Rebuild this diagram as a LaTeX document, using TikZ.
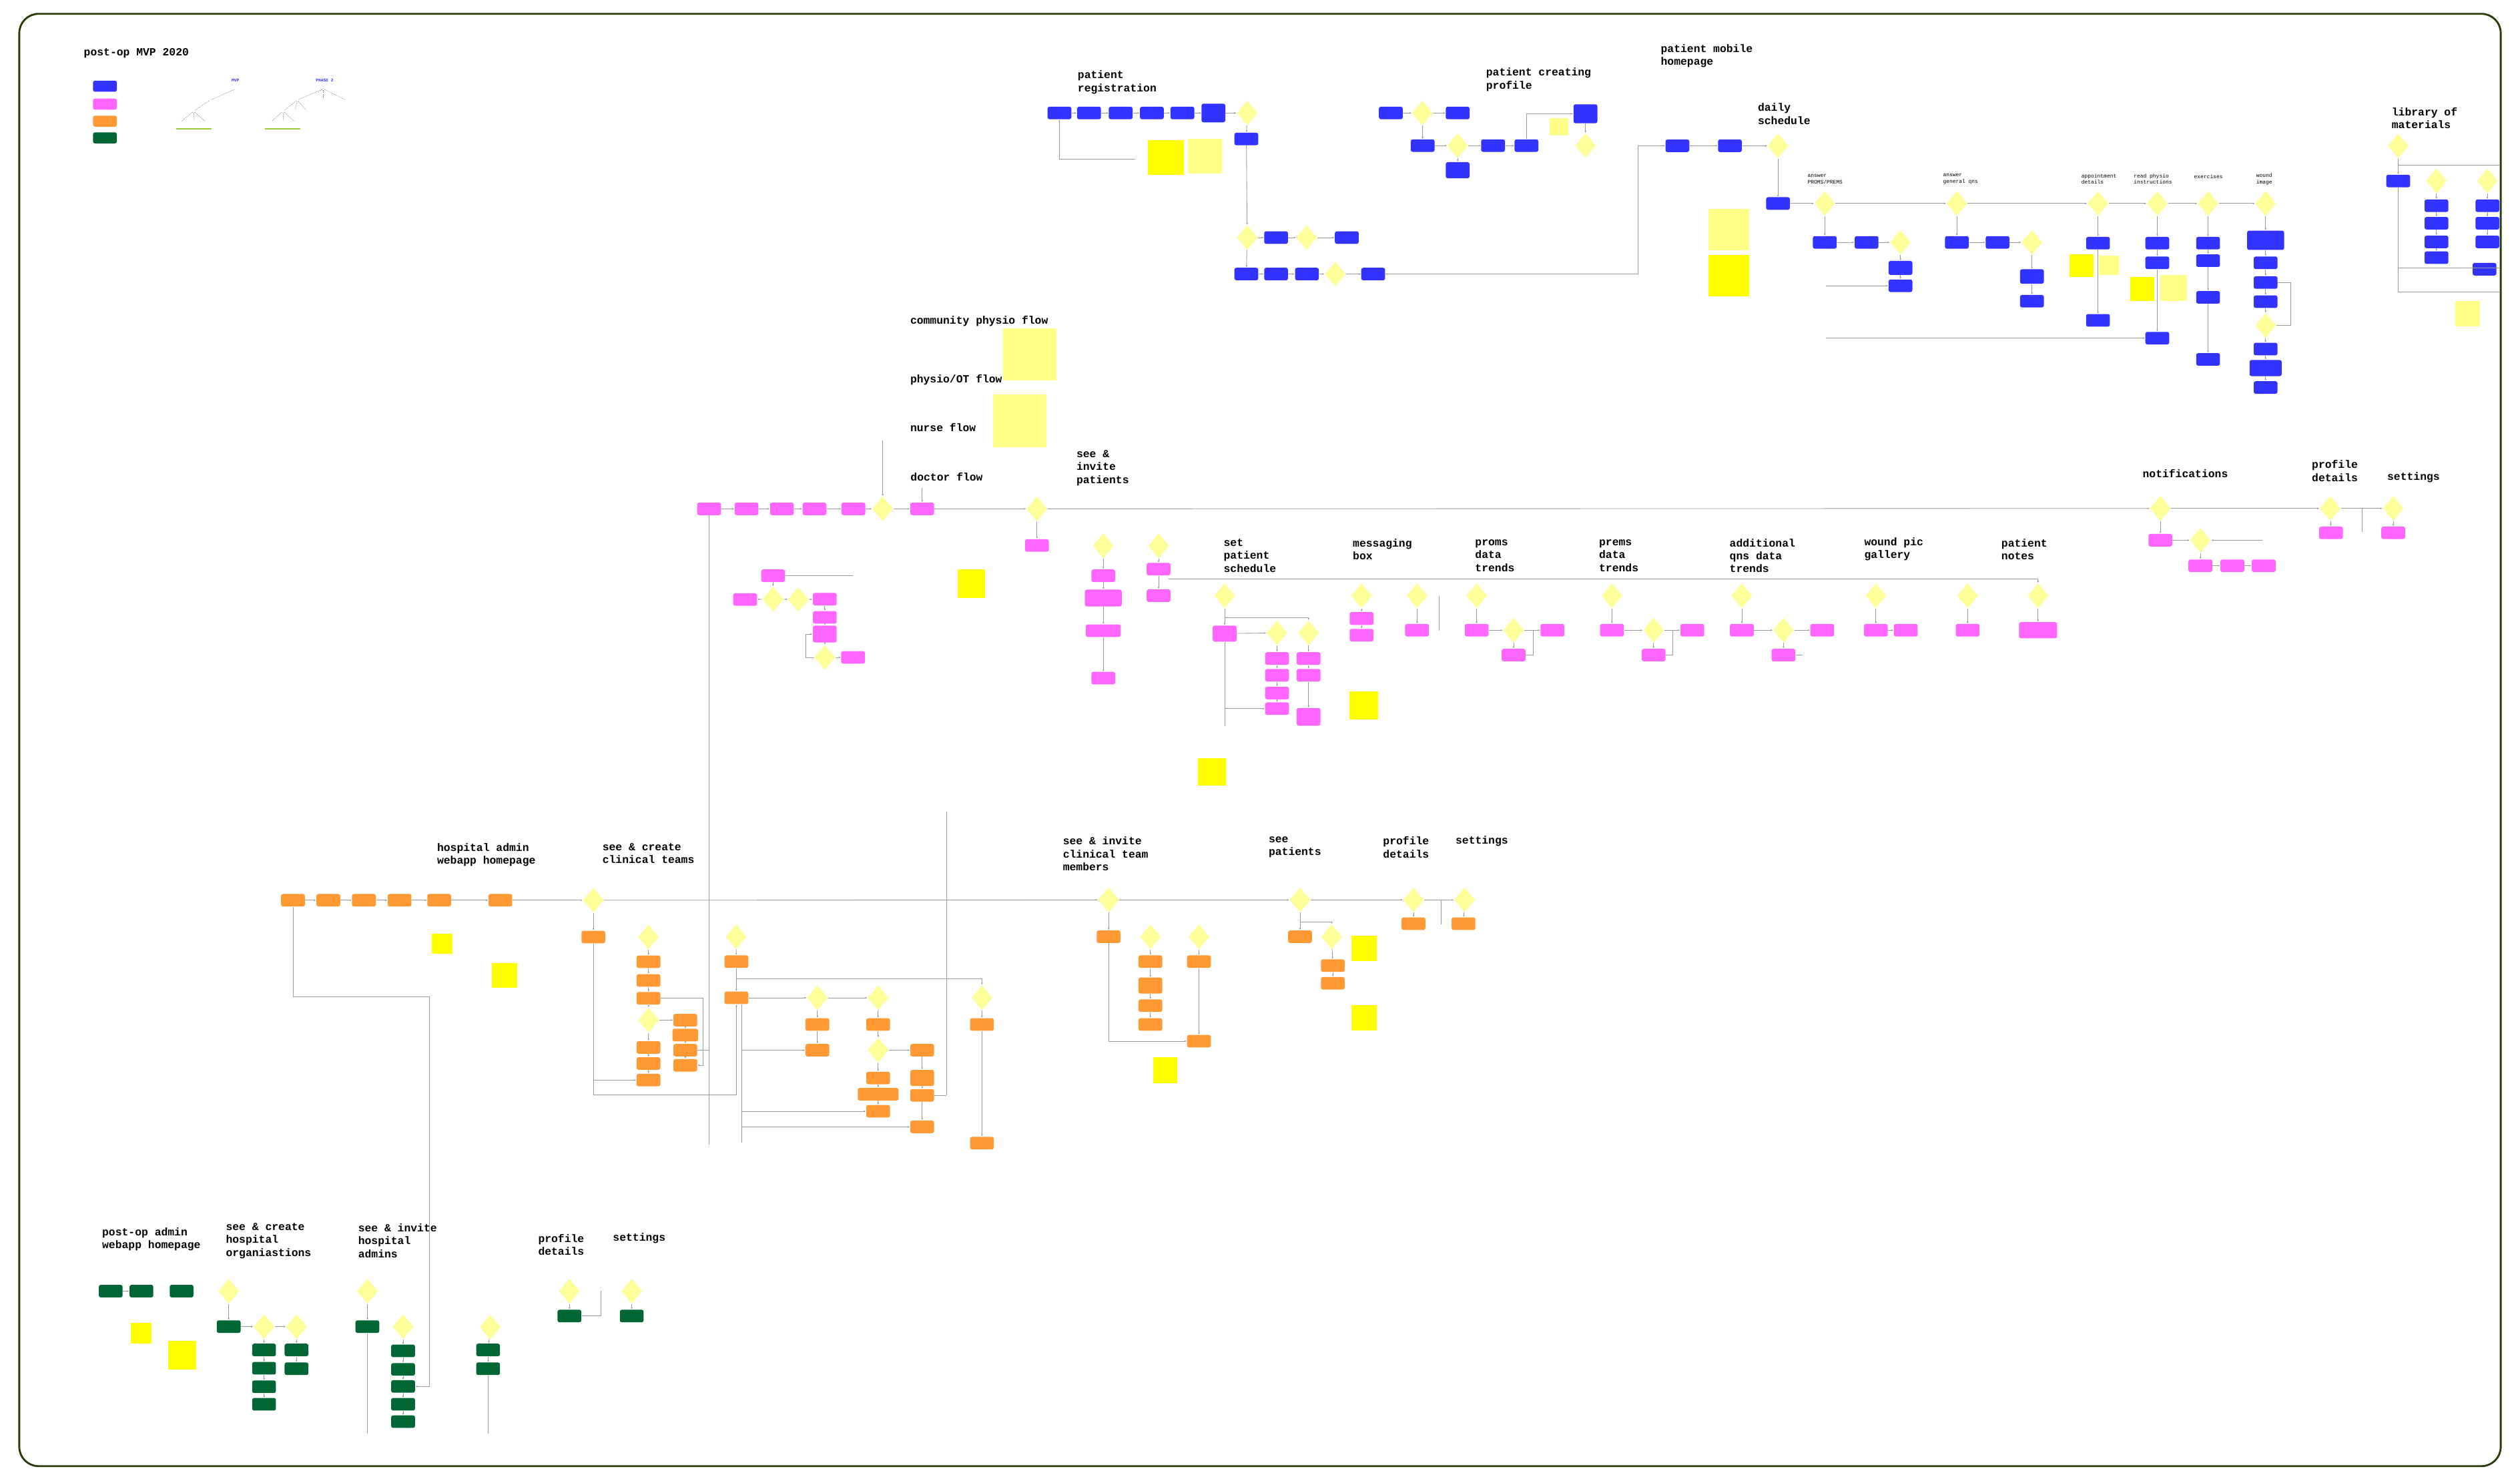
\documentclass[tikz,border=0pt]{standalone}
\usepackage{fontspec}
\newfontfamily\typefont{Liberation Mono}
\usetikzlibrary{arrows.meta,shapes.geometric}
\definecolor{poFrame}{HTML}{2C3D0C}
\definecolor{poBlue}{HTML}{3333FF}
\definecolor{poPink}{HTML}{FF66FF}
\definecolor{poOrange}{HTML}{FF9933}
\definecolor{poGreen}{HTML}{006633}
\definecolor{poLemon}{HTML}{FFFF99}
\definecolor{poSun}{HTML}{FFFF00}
\definecolor{poPale}{HTML}{FFFF88}
\definecolor{poWire}{HTML}{9A9A9A}
\definecolor{poLeaf}{HTML}{99CC33}
\tikzset{
  card/.style={rectangle, rounded corners=1.2pt, minimum width=14.8pt, minimum height=7.8pt, inner sep=0pt},
  patient/.style={card, fill=poBlue},
  clinician/.style={card, fill=poPink},
  hospital/.style={card, fill=poOrange},
  admin/.style={card, fill=poGreen},
  choice/.style={diamond, fill=poLemon, minimum width=13pt, minimum height=15.5pt, inner sep=0pt},
  sticky/.style={rectangle, fill=poSun, inner sep=0pt},
  pale/.style={rectangle, fill=poPale, inner sep=0pt},
  heading/.style={font=\typefont\bfseries\fontsize{6.8}{8}\selectfont, align=left, anchor=west, inner sep=0pt},
  caption/.style={font=\typefont\fontsize{3.3}{4}\selectfont, align=left, anchor=west, inner sep=0pt},
  treelabel/.style={font=\typefont\bfseries\fontsize{2.6}{3}\selectfont, text=poBlue, inner sep=0pt},
  twig/.style={draw=black!55, line width=0.2pt, dash pattern=on 0.6pt off 0.5pt, shorten <=0.8pt, shorten >=0.8pt},
  arrow/.style={-{Latex[length=1.3pt,width=1.1pt]}, draw=poWire, line width=0.35pt},
  wire/.style={draw=poWire, line width=0.35pt}
}
\begin{document}
\begin{tikzpicture}[x=1pt, y=-1pt]
  \useasboundingbox (0,0) rectangle (1568,920);
  \draw[poFrame, line width=1.2pt, rounded corners=12pt] (12,8.6) rectangle (1556,912.2);

  \node[heading] (mvpTitle) at (52,33) {post-op MVP 2020};
  \node[heading] (registrationTitle) at (670.4,51.2) {patient\\registration};
  \node[heading] (createProfileTitle) at (924.5,49.5) {patient creating\\profile};
  \node[heading] (mobileTitle) at (1033.2,34.7) {patient mobile\\homepage};
  \node[heading] (dailyTitle) at (1093.6,70.9) {daily\\schedule};
  \node[heading] (libraryTitle) at (1488,73.4) {library of\\materials};
  \node[heading] (communityTitle) at (566.2,200) {community physio flow};
  \node[heading] (physioTitle) at (566.2,236.4) {physio/OT flow};
  \node[heading] (nurseTitle) at (566.2,265.8) {nurse flow};
  \node[heading] (doctorTitle) at (566.4,296.8) {doctor flow};
  \node[heading] (invitePatientsTitle) at (669.6,291.1) {see \&\\invite\\patients};
  \node[heading] (notificationsTitle) at (1333,294.6) {notifications};
  \node[heading] (profileTopTitle) at (1438.3,293) {profile\\details};
  \node[heading] (settingsTopTitle) at (1485.2,296.9) {settings};
  \node[heading] (scheduleTitle) at (761.2,345.7) {set\\patient\\schedule};
  \node[heading] (messagingTitle) at (841.6,341.7) {messaging\\box};
  \node[heading] (promsTitle) at (917.7,345.7) {proms\\data\\trends};
  \node[heading] (premsTitle) at (994.8,345.7) {prems\\data\\trends};
  \node[heading] (additionalTitle) at (1076,345.7) {additional\\qns data\\trends};
  \node[heading] (woundTitle) at (1159.8,341.7) {wound pic\\gallery};
  \node[heading] (notesTitle) at (1245.1,341.7) {patient\\notes};
  \node[heading] (hospitalTitle) at (271.8,531.8) {hospital admin\\webapp homepage};
  \node[heading] (teamsTitle) at (374.7,530.9) {see \& create\\clinical teams};
  \node[heading] (membersTitle) at (661.2,531.2) {see \& invite\\clinical team\\members};
  \node[heading] (seePatientsTitle) at (789.2,527.2) {see\\patients};
  \node[heading] (profileMidTitle) at (860.4,527.2) {profile\\details};
  \node[heading] (settingsMidTitle) at (905.5,523.3) {settings};
  \node[heading] (adminTitle) at (63.4,770.9) {post-op admin\\webapp homepage};
  \node[heading] (orgTitle) at (140.4,772) {see \& create\\hospital\\organiastions};
  \node[heading] (hospAdminsTitle) at (222.7,772) {see \& invite\\hospital\\admins};
  \node[heading] (profileLowTitle) at (334.7,774.5) {profile\\details};
  \node[heading] (settingsLowTitle) at (381.2,770.6) {settings};

  \node[patient, minimum height=6.9pt] (keyPatient) at (65.3,53.6) {};
  \node[clinician, minimum height=6.9pt] (keyClinician) at (65.3,64.8) {};
  \node[hospital, minimum height=6.9pt] (keyHospital) at (65.3,75.4) {};
  \node[admin, minimum height=6.9pt] (keyAdmin) at (65.3,85.8) {};

  \node[treelabel] (mvpLabel) at (146.5,50.2) {MVP};
  \node[treelabel] (phaseLabel) at (202,50.2) {PHASE 2};
  \coordinate (mvpRoot) at (146.5,55.4);
  \coordinate (mvpSet) at (130.7,62.3);
  \coordinate (mvpClin) at (120.5,69.2);
  \coordinate (mvpLeafA) at (112.2,76.1);
  \coordinate (mvpLeafB) at (120.9,76.1);
  \coordinate (mvpLeafC) at (128.3,76.1);
  \coordinate (phaseRoot) at (201.2,55.4);
  \coordinate (phaseSetA) at (185,62.3);
  \coordinate (phaseSetB) at (201.2,62.3);
  \coordinate (phaseSetC) at (215.4,62.3);
  \coordinate (phaseClinA) at (176.1,69.2);
  \coordinate (phaseClinB) at (183.5,69.2);
  \coordinate (phaseClinC) at (191,69.2);
  \coordinate (phaseLeafA) at (168.3,76.1);
  \coordinate (phaseLeafB) at (176.5,76.1);
  \coordinate (phaseLeafC) at (183.9,76.1);
  \draw[twig] (mvpRoot) -- (mvpSet);
  \draw[twig] (mvpSet) -- (mvpClin);
  \draw[twig] (mvpClin) -- (mvpLeafA);
  \draw[twig] (mvpClin) -- (mvpLeafB);
  \draw[twig] (mvpClin) -- (mvpLeafC);
  \draw[twig] (phaseRoot) -- (phaseSetA);
  \draw[twig] (phaseRoot) -- (phaseSetB);
  \draw[twig] (phaseRoot) -- (phaseSetC);
  \draw[twig] (phaseSetA) -- (phaseClinA);
  \draw[twig] (phaseSetA) -- (phaseClinB);
  \draw[twig] (phaseSetA) -- (phaseClinC);
  \draw[twig] (phaseClinA) -- (phaseLeafA);
  \draw[twig] (phaseClinA) -- (phaseLeafB);
  \draw[twig] (phaseClinA) -- (phaseLeafC);
  \draw[poLeaf, line width=0.8pt] (109.8,80.3) -- (131.6,80.3);
  \draw[poLeaf, line width=0.8pt] (165,80.3) -- (186.9,80.3);

  % patient app
  \node[patient] (regA) at (659.2,70.3) {};
  \node[patient] (regB) at (677.6,70.3) {};
  \node[patient] (regC) at (697.3,70.3) {};
  \node[patient] (regD) at (716.7,70.3) {};
  \node[patient] (regE) at (735.7,70.3) {};
  \node[patient, minimum height=11.6pt] (regF) at (755,70.3) {};
  \node[choice] (regCheck) at (776,70.3) {};
  \node[patient] (regBelow) at (775.5,86.5) {};
  \node[choice] (regVerify) at (776,147.8) {};
  \node[patient] (regG) at (794,147.8) {};
  \node[choice] (regCode) at (813,147.8) {};
  \node[patient] (regH) at (838,147.8) {};
  \node[patient] (regI) at (775.5,170.5) {};
  \node[patient] (regJ) at (794,170.5) {};
  \node[patient] (regK) at (813.2,170.5) {};
  \node[choice] (regDone) at (830.8,170.5) {};
  \node[patient] (regL) at (854.4,170.5) {};
  \node[sticky, minimum width=22.1pt, minimum height=21.8pt] (regSun) at (725.4,98.1) {};
  \node[pale, minimum width=21.3pt, minimum height=21.5pt] (regPale) at (749.7,97.3) {};
  \coordinate (regLoop) at (706.2,99);

  \node[patient] (profA) at (865.4,70.3) {};
  \node[choice] (profAsk) at (885,70.3) {};
  \node[patient] (profB) at (907,70.3) {};
  \node[patient] (profC) at (885.2,90.6) {};
  \node[choice] (profPick) at (907,90.6) {};
  \node[patient] (profD) at (929,90.6) {};
  \node[patient] (profE) at (949.8,90.6) {};
  \node[patient, minimum height=10pt] (profF) at (907,105.9) {};
  \node[patient, minimum height=11.8pt] (profG) at (986.5,70.8) {};
  \node[choice] (profDone) at (986.5,90.6) {};
  \node[pale, minimum width=11.4pt, minimum height=11.1pt] (profPale) at (970.1,78.9) {};

  \node[patient] (mobA) at (1043.7,90.7) {};
  \node[patient] (mobB) at (1076.4,90.7) {};
  \node[choice] (dayAsk) at (1106.3,90.8) {};
  \node[patient] (dayHub) at (1106.3,126.6) {};
  \coordinate (mobJoin) at (1019,170.5);
  \node[pale, minimum width=25.4pt, minimum height=25.6pt] (dayPale) at (1075.7,142.8) {};
  \node[sticky, minimum width=25.4pt, minimum height=25.5pt] (daySun) at (1075.7,171.5) {};

  \node[caption] (promsCap) at (1124.5,111.4) {answer\\PROMS/PREMS};
  \node[caption] (generalCap) at (1208.8,111.4) {answer\\general qns};
  \node[caption] (apptCap) at (1294.9,111.4) {appointment\\details};
  \node[caption] (physioCap) at (1327.5,111.4) {read physio\\instructions};
  \node[caption] (exerciseCap) at (1365,110) {exercises};
  \node[caption] (woundCap) at (1403.7,111.4) {wound\\image};

  \node[choice] (dsProms) at (1135.4,126.6) {};
  \node[choice] (dsGeneral) at (1217.6,126.6) {};
  \node[choice] (dsAppt) at (1305.4,126.6) {};
  \node[choice] (dsPhysio) at (1342.3,126.6) {};
  \node[choice] (dsExercise) at (1373.9,126.6) {};
  \node[choice] (dsWound) at (1409.7,126.6) {};

  \node[patient] (promsA) at (1135.4,150.8) {};
  \node[patient] (promsB) at (1161.4,150.8) {};
  \node[choice] (promsAsk) at (1182.5,150.8) {};
  \node[patient, minimum height=8.7pt] (promsC) at (1182.5,166.7) {};
  \node[patient] (promsD) at (1182.5,177.8) {};
  \coordinate (promsTail) at (1136,177.8);
  \node[patient] (genA) at (1217.6,150.8) {};
  \node[patient] (genB) at (1242.9,150.8) {};
  \node[choice] (genAsk) at (1264.3,150.8) {};
  \node[patient, minimum height=9pt] (genC) at (1264.3,172) {};
  \node[patient] (genD) at (1264.3,187.4) {};
  \node[patient] (apptA) at (1305.4,151.3) {};
  \node[patient] (apptB) at (1305.4,199.3) {};
  \node[sticky, minimum width=14.8pt, minimum height=14.3pt] (apptSun) at (1295.2,165.2) {};
  \node[pale, minimum width=12.4pt, minimum height=12pt] (apptPale) at (1312.2,165) {};
  \node[patient] (physA) at (1342.3,151.3) {};
  \node[patient] (physB) at (1342.3,163.5) {};
  \node[patient] (physC) at (1342.3,210.4) {};
  \coordinate (physTail) at (1136,210.4);
  \node[sticky, minimum width=14.7pt, minimum height=15.1pt] (physSun) at (1333,179.9) {};
  \node[pale, minimum width=16.5pt, minimum height=16.4pt] (physPale) at (1352.5,179.2) {};
  \node[patient] (exA) at (1373.9,151.3) {};
  \node[patient] (exB) at (1373.9,162.2) {};
  \node[patient] (exC) at (1373.9,185) {};
  \node[patient] (exD) at (1373.9,223.6) {};
  \node[patient, minimum width=23pt, minimum height=12pt] (woA) at (1409.7,149.5) {};
  \node[patient] (woB) at (1409.7,163.5) {};
  \node[patient] (woC) at (1409.7,175.8) {};
  \node[patient] (woD) at (1409.7,187.7) {};
  \node[choice] (woAsk) at (1409.7,202.5) {};
  \node[patient] (woE) at (1409.7,217.2) {};
  \node[patient, minimum width=20pt, minimum height=10pt] (woF) at (1409.7,229) {};
  \node[patient] (woG) at (1409.7,241.1) {};

  \node[choice] (libAsk) at (1492.2,90.8) {};
  \node[patient] (libA) at (1492.2,112.6) {};
  \node[choice] (libAskB) at (1516,112.6) {};
  \node[choice] (libAskC) at (1547.7,112.6) {};
  \node[patient] (libB1) at (1516,128) {};
  \node[patient] (libB2) at (1516,138.9) {};
  \node[patient] (libB3) at (1516,150.5) {};
  \node[patient] (libB4) at (1516,160.3) {};
  \node[patient] (libC1) at (1547.7,128) {};
  \node[patient] (libC2) at (1547.7,138.9) {};
  \node[patient] (libC3) at (1547.7,150.5) {};
  \node[patient] (libC4) at (1545.9,167.5) {};
  \node[pale, minimum width=15.3pt, minimum height=15.6pt] (libPale) at (1535.4,195.2) {};
  \coordinate (libFoot) at (1492.2,181.8);
  \coordinate (libSplit) at (1492.2,102.6);
  \coordinate (libEdge) at (1555,102.6);
  \coordinate (libMidL) at (1492.2,166.7);
  \coordinate (libMidR) at (1555,166.7);
  \coordinate (libLowR) at (1555,181.8);

  % clinician webapp
  \node[pale, minimum width=33pt, minimum height=32.5pt] (communityPale) at (640.8,220.5) {};
  \node[pale, minimum width=33.1pt, minimum height=32.7pt] (physioPale) at (634.6,261.7) {};

  \node[clinician] (docA) at (441.2,316.6) {};
  \node[clinician] (docB) at (464.5,316.6) {};
  \node[clinician] (docC) at (486.5,316.6) {};
  \node[clinician] (docD) at (506.8,316.6) {};
  \node[clinician] (docE) at (531,316.6) {};
  \node[choice] (docAsk) at (549.2,316.6) {};
  \node[clinician] (docF) at (573.8,316.6) {};
  \coordinate (flowTop) at (549.2,274);
  \coordinate (docFoot) at (441.2,712);
  \node[clinician] (docG) at (481,358.2) {};
  \coordinate (docSpur) at (530.8,358.2);
  \node[choice] (docAskB) at (481,372.8) {};
  \node[clinician] (docH) at (463.6,373) {};
  \node[choice] (docAskC) at (496.7,373) {};
  \node[clinician] (docI) at (513.2,372.8) {};
  \node[clinician] (docJ) at (513.2,384.1) {};
  \node[clinician, minimum height=10.5pt] (docK) at (513.2,394.5) {};
  \node[choice] (docAskD) at (513.2,409) {};
  \node[clinician] (docL) at (530.8,409) {};
  \node[sticky, minimum width=17.2pt, minimum height=17.6pt] (docSun) at (604.4,363.2) {};

  \node[choice] (invAsk) at (645.2,316.6) {};
  \node[clinician] (invA) at (645.2,339.4) {};
  \node[choice] (invAskB) at (686.5,339.6) {};
  \node[choice] (invAskC) at (720.9,339.6) {};
  \node[clinician] (invB) at (686.5,358.2) {};
  \node[clinician, minimum width=22.9pt, minimum height=10.5pt] (invC) at (686.5,372.1) {};
  \node[clinician, minimum width=21.6pt] (invD) at (686.5,392.4) {};
  \node[clinician] (invE) at (686.5,421.9) {};
  \node[clinician] (invF) at (720.9,354.1) {};
  \node[clinician] (invG) at (720.9,370.6) {};
  \coordinate (trendStart) at (727,360.2);

  \node[choice] (notifAsk) at (1344.2,316.3) {};
  \node[clinician] (notifA) at (1344.2,336.1) {};
  \node[choice] (notifAskB) at (1369.1,336.1) {};
  \node[clinician] (notifB) at (1369.1,352) {};
  \node[clinician] (notifC) at (1389,352) {};
  \node[clinician] (notifD) at (1408.5,352) {};
  \coordinate (notifSpur) at (1407.6,336.1);
  \node[choice] (profAskTop) at (1449.9,316.3) {};
  \node[clinician] (profTopA) at (1450.4,331.5) {};
  \node[choice] (setAskTop) at (1489.1,316.3) {};
  \node[clinician] (setTopA) at (1489.1,331.5) {};
  \coordinate (profRail) at (1469.8,316.3);
  \coordinate (profRailFoot) at (1469.8,330.9);

  \node[choice] (schedAsk) at (762,370.7) {};
  \node[clinician, minimum height=10pt] (schedA) at (762,394.2) {};
  \node[choice] (schedAskB) at (794.6,393.8) {};
  \node[choice] (schedAskC) at (814.2,393.8) {};
  \node[clinician] (schedB1) at (794.6,409.7) {};
  \node[clinician] (schedB2) at (794.6,420.1) {};
  \node[clinician] (schedB3) at (794.6,431.2) {};
  \node[clinician] (schedB4) at (794.6,440.9) {};
  \node[clinician] (schedC1) at (814.2,409.7) {};
  \node[clinician] (schedC2) at (814.2,420.1) {};
  \node[clinician, minimum height=11pt] (schedC3) at (814.2,446) {};
  \coordinate (schedFork) at (762,384.1);
  \coordinate (schedFoot) at (762,452);
  \coordinate (schedTap) at (762,440.9);
  \node[sticky, minimum width=17.8pt, minimum height=17.2pt] (schedSun) at (754.1,480.3) {};

  \node[choice] (msgAsk) at (847.2,370.7) {};
  \node[clinician, minimum height=8pt] (msgA) at (847.2,384.8) {};
  \node[clinician] (msgB) at (847.2,395.2) {};
  \node[choice] (msgAskB) at (881.7,370.7) {};
  \node[clinician] (msgC) at (881.7,392.1) {};
  \coordinate (msgRailTop) at (895.4,371);
  \coordinate (msgRailFoot) at (895.4,392.4);
  \node[sticky, minimum width=17.8pt, minimum height=17.3pt] (msgSun) at (848.7,438.9) {};

  \node[choice] (promTAsk) at (918.8,370.7) {};
  \node[clinician] (promTA) at (918.8,392.1) {};
  \node[choice] (promTAskB) at (941.8,392.1) {};
  \node[clinician] (promTB) at (965.9,392.1) {};
  \node[clinician] (promTC) at (941.8,407.6) {};
  \node[choice] (premAsk) at (1003,370.7) {};
  \node[clinician] (premA) at (1003,392.1) {};
  \node[choice] (premAskB) at (1028.9,392.1) {};
  \node[clinician] (premB) at (1053,392.1) {};
  \node[clinician] (premC) at (1028.9,407.6) {};
  \node[choice] (addAsk) at (1083.8,370.7) {};
  \node[clinician] (addA) at (1083.8,392.1) {};
  \node[choice] (addAskB) at (1109.7,392.1) {};
  \node[clinician] (addB) at (1133.8,392.1) {};
  \node[clinician] (addC) at (1109.7,407.6) {};
  \node[choice] (picAsk) at (1167.2,370.7) {};
  \node[clinician] (picA) at (1167.2,392.1) {};
  \node[clinician] (picB) at (1185.8,392.1) {};
  \node[choice] (noteAsk) at (1224.3,370.7) {};
  \node[clinician] (noteA) at (1224.3,392.1) {};
  \node[choice] (farAsk) at (1268.1,370.7) {};
  \node[clinician, minimum width=23.7pt, minimum height=10pt] (farA) at (1268.1,392.1) {};

  % hospital admin webapp
  \node[hospital] (hosA) at (182.3,560.1) {};
  \node[hospital] (hosB) at (204.3,560.1) {};
  \node[hospital] (hosC) at (226.4,560.1) {};
  \node[hospital] (hosD) at (248.6,560.1) {};
  \node[hospital] (hosE) at (273.3,560.1) {};
  \node[hospital] (hosF) at (311.3,560.1) {};
  \node[choice] (teamAsk) at (369.2,560.1) {};
  \node[sticky, minimum width=12.9pt, minimum height=12.7pt] (hosSunA) at (275.2,587.1) {};
  \node[sticky, minimum width=15.6pt, minimum height=15.6pt] (hosSunB) at (313.9,606.8) {};
  \coordinate (hosRailTop) at (267,620.1);
  \coordinate (hosRailLow) at (267,862.6);

  \node[hospital] (teamsA) at (369.2,583) {};
  \node[choice] (teamAskB) at (403.5,583) {};
  \node[hospital] (teamB) at (403.5,598.4) {};
  \node[hospital] (teamC) at (403.5,610) {};
  \node[hospital] (teamD) at (403.5,621.1) {};
  \node[choice] (teamAskC) at (403.5,634.7) {};
  \node[hospital] (teamE) at (426.4,634.7) {};
  \node[hospital, minimum width=16pt] (teamF) at (426.4,644) {};
  \node[hospital] (teamJ) at (426.4,653.4) {};
  \node[hospital] (teamK) at (426.4,662.8) {};
  \node[hospital] (teamG) at (403.5,651.7) {};
  \node[hospital] (teamH) at (403.5,661.7) {};
  \node[hospital] (teamI) at (403.5,672) {};
  \coordinate (teamBend) at (437.4,621.1);
  \coordinate (teamTapJ) at (441.2,653.4);
  \coordinate (teamLoop) at (369.2,681);
  \coordinate (teamTapI) at (369.2,672);

  \node[choice] (clinAsk) at (458,582.8) {};
  \node[hospital] (clinA) at (458.2,598.3) {};
  \node[hospital] (clinB) at (458.2,620.8) {};
  \coordinate (clinFork) at (458.2,609);
  \coordinate (subRailTop) at (461.6,625);
  \coordinate (subRailFoot) at (461.6,711);
  \coordinate (subTapD) at (461.6,653.4);
  \coordinate (subTapJ) at (461.6,691.4);
  \coordinate (subTapK) at (461.6,701.1);
  \node[choice] (subAskA) at (508.6,620.8) {};
  \node[choice] (subAskB) at (546.4,620.8) {};
  \node[choice] (subAskC) at (611,620.8) {};
  \node[hospital] (subA) at (508.6,637.4) {};
  \node[hospital] (subB) at (546.4,637.4) {};
  \node[hospital] (subC) at (611,637.4) {};
  \node[hospital] (subD) at (508.6,653.4) {};
  \node[choice] (subAskD) at (546.4,653.4) {};
  \node[hospital] (subE) at (573.8,653.4) {};
  \node[hospital] (subF) at (546.4,670.7) {};
  \node[hospital, minimum height=10pt] (subG) at (573.8,670.7) {};
  \node[hospital, minimum width=25.4pt] (subH) at (546.4,680.8) {};
  \node[hospital] (subI) at (573.8,681.5) {};
  \node[hospital] (subJ) at (546.4,691.4) {};
  \node[hospital] (subK) at (573.8,701.1) {};
  \node[hospital] (subL) at (611,711.2) {};
  \coordinate (subSpur) at (589,681.5);
  \coordinate (midRailTop) at (589,505);
  \coordinate (midRailFoot) at (589,681.5);

  \node[choice] (memberAsk) at (689.8,559.9) {};
  \node[hospital] (memberA) at (689.8,582.8) {};
  \node[choice] (memberAskB) at (715.8,582.8) {};
  \node[choice] (memberAskC) at (746,582.8) {};
  \node[hospital] (memberB) at (715.8,598.3) {};
  \node[hospital] (memberC) at (746,598.3) {};
  \node[hospital, minimum height=10pt] (memberD) at (715.8,613.2) {};
  \node[hospital] (memberE) at (715.8,625.7) {};
  \node[hospital] (memberF) at (715.8,637.4) {};
  \node[hospital] (memberG) at (746,647.8) {};
  \node[sticky, minimum width=15.3pt, minimum height=16pt] (memberSun) at (725,665.8) {};

  \node[choice] (patAsk) at (808.9,559.9) {};
  \node[hospital] (patA) at (808.9,582.8) {};
  \node[choice] (patAskB) at (828.6,582.8) {};
  \node[hospital] (patB) at (829.3,600.8) {};
  \node[hospital] (patC) at (829.3,611.8) {};
  \coordinate (patFork) at (808.9,573.8);
  \node[sticky, minimum width=15.9pt, minimum height=16pt] (patSunA) at (848.7,590) {};
  \node[sticky, minimum width=15.9pt, minimum height=15.8pt] (patSunB) at (848.7,633.3) {};
  \node[choice] (hprofAsk) at (879.5,559.9) {};
  \node[hospital] (hprofA) at (879.5,574.7) {};
  \node[choice] (hsetAsk) at (911.3,559.9) {};
  \node[hospital] (hsetA) at (910.6,574.7) {};
  \coordinate (hprofRail) at (896.9,559.9);
  \coordinate (hprofRailFoot) at (896.9,575.2);

  % post-op admin webapp
  \node[admin] (adA) at (68.9,803.3) {};
  \node[admin] (adB) at (88,803.3) {};
  \node[admin] (adC) at (113,803.3) {};
  \node[sticky, minimum width=12.9pt, minimum height=13.2pt] (adSunA) at (88,829.5) {};
  \node[sticky, minimum width=17.4pt, minimum height=17.6pt] (adSunB) at (113.4,843.2) {};
  \node[choice] (orgAsk) at (142.3,803.3) {};
  \node[admin] (orgA) at (142.3,825.4) {};
  \node[choice] (orgAskB) at (164.3,825.4) {};
  \node[choice] (orgAskC) at (184.5,825.4) {};
  \node[admin] (orgB1) at (164.3,839.9) {};
  \node[admin] (orgB2) at (164.3,851.3) {};
  \node[admin] (orgB3) at (164.3,862.8) {};
  \node[admin] (orgB4) at (164.3,873.7) {};
  \node[admin] (orgC1) at (184.5,839.9) {};
  \node[admin] (orgC2) at (184.5,851.6) {};
  \node[choice] (invAdAsk) at (228.6,803.3) {};
  \node[admin] (admA) at (228.6,825.4) {};
  \coordinate (admFoot) at (228.6,892);
  \node[choice] (admAskB) at (250.8,825.4) {};
  \node[admin] (admB1) at (250.8,840.5) {};
  \node[admin] (admB2) at (250.8,852) {};
  \node[admin] (admB3) at (250.8,862.6) {};
  \node[admin] (admB4) at (250.8,873.7) {};
  \node[admin] (admB5) at (250.8,884.5) {};
  \node[choice] (admAskC) at (305,825.7) {};
  \node[admin] (admC) at (303.7,839.9) {};
  \node[admin] (admD) at (303.7,851.6) {};
  \coordinate (admCFoot) at (303.7,892);
  \node[choice] (aprofAsk) at (354.3,803.3) {};
  \node[admin] (aprofA) at (354.3,818.8) {};
  \coordinate (aprofRail) at (374,803.3);
  \node[choice] (asetAsk) at (393.1,803.3) {};
  \node[admin] (asetA) at (393.1,818.8) {};

  \draw[arrow] (regA) -- (regB);
  \draw[arrow] (regB) -- (regC);
  \draw[arrow] (regC) -- (regD);
  \draw[arrow] (regD) -- (regE);
  \draw[arrow] (regE) -- (regF);
  \draw[arrow] (regF) -- (regCheck);
  \draw[arrow] (regCheck) -- (regBelow);
  \draw[arrow] (regBelow) -- (regVerify);
  \draw[arrow] (regVerify) -- (regG);
  \draw[arrow] (regG) -- (regCode);
  \draw[arrow] (regCode) -- (regH);
  \draw[arrow] (regVerify) -- (regI);
  \draw[arrow] (regI) -- (regJ);
  \draw[arrow] (regJ) -- (regK);
  \draw[arrow] (regK) -- (regDone);
  \draw[arrow] (regDone) -- (regL);
  \draw[arrow] (regLoop) -| (regA);
  \draw[arrow] (regL) -- (mobJoin) |- (mobA);
  \draw[arrow] (profA) -- (profAsk);
  \draw[arrow] (profAsk) -- (profB);
  \draw[arrow] (profAsk) -- (profC);
  \draw[arrow] (profC) -- (profPick);
  \draw[arrow] (profPick) -- (profD);
  \draw[arrow] (profD) -- (profE);
  \draw[arrow] (profPick) -- (profF);
  \draw[arrow] (profE) |- (profG);
  \draw[arrow] (profG) -- (profDone);
  \draw[arrow] (mobA) -- (mobB);
  \draw[arrow] (mobB) -- (dayAsk);
  \draw[arrow] (dayAsk) -- (dayHub);
  \draw[arrow] (dayHub) -- (dsProms);
  \draw[arrow] (dsProms) -- (dsGeneral);
  \draw[arrow] (dsGeneral) -- (dsAppt);
  \draw[arrow] (dsAppt) -- (dsPhysio);
  \draw[arrow] (dsPhysio) -- (dsExercise);
  \draw[arrow] (dsExercise) -- (dsWound);
  \draw[arrow] (dsProms) -- (promsA);
  \draw[arrow] (promsA) -- (promsB);
  \draw[arrow] (promsB) -- (promsAsk);
  \draw[arrow] (promsAsk) -- (promsC);
  \draw[arrow] (promsC) -- (promsD);
  \draw[arrow] (promsTail) -- (promsD);
  \draw[arrow] (dsGeneral) -- (genA);
  \draw[arrow] (genA) -- (genB);
  \draw[arrow] (genB) -- (genAsk);
  \draw[arrow] (genAsk) -- (genC);
  \draw[arrow] (genC) -- (genD);
  \draw[arrow] (dsAppt) -- (apptA);
  \draw[arrow] (apptA) -- (apptB);
  \draw[arrow] (dsPhysio) -- (physA);
  \draw[arrow] (physA) -- (physB);
  \draw[arrow] (physB) -- (physC);
  \draw[arrow] (physTail) -- (physC);
  \draw[arrow] (dsExercise) -- (exA);
  \draw[arrow] (exA) -- (exB);
  \draw[arrow] (exB) -- (exC);
  \draw[arrow] (exC) -- (exD);
  \draw[arrow] (dsWound) -- (woA);
  \draw[arrow] (woA) -- (woB);
  \draw[arrow] (woB) -- (woC);
  \draw[arrow] (woC) -- (woD);
  \draw[arrow] (woD) -- (woAsk);
  \draw[arrow] (woAsk) -- (woE);
  \draw[arrow] (woE) -- (woF);
  \draw[arrow] (woF) -- (woG);
  \draw[wire] (woC.east) -- ++(8,0) |- (woAsk.east);
  \draw[arrow] (libAsk) -- (libA);
  \draw[wire] (libA) -- (libFoot);
  \draw[wire] (libSplit) -- (libEdge);
  \draw[wire] (libMidL) -- (libMidR);
  \draw[wire] (libFoot) -- (libLowR);
  \draw[arrow] (libAskB) -- (libB1);
  \draw[arrow] (libB1) -- (libB2);
  \draw[arrow] (libB2) -- (libB3);
  \draw[arrow] (libB3) -- (libB4);
  \draw[arrow] (libAskC) -- (libC1);
  \draw[arrow] (libC1) -- (libC2);
  \draw[arrow] (libC2) -- (libC3);

  \draw[arrow] (docA) -- (docB);
  \draw[arrow] (docB) -- (docC);
  \draw[arrow] (docC) -- (docD);
  \draw[arrow] (docD) -- (docE);
  \draw[arrow] (docE) -- (docAsk);
  \draw[arrow] (docAsk) -- (docF);
  \draw[arrow] (docF) -- (invAsk);
  \draw[arrow] (invAsk) -- (notifAsk);
  \draw[arrow] (notifAsk) -- (profAskTop);
  \draw[arrow] (profAskTop) -- (setAskTop);
  \draw[arrow] (flowTop) -- (docAsk);
  \draw[wire] (docA) -- (docFoot);
  \draw[arrow] ([yshift=9pt]docF.north) -- (docF.north);
  \draw[wire] (docG) -- (docSpur);
  \draw[arrow] (docG) -- (docAskB);
  \draw[arrow] (docAskB) -- (docH);
  \draw[arrow] (docAskB) -- (docAskC);
  \draw[arrow] (docAskC) -- (docI);
  \draw[arrow] (docI) -- (docJ);
  \draw[arrow] (docJ) -- (docK);
  \draw[arrow] (docK) -- (docAskD);
  \draw[arrow] (docAskD) -- (docL);
  \draw[arrow] (docAskD.west) -- ++(-5,0) |- (docK.west);
  \draw[arrow] (invAsk) -- (invA);
  \draw[arrow] (invAskB) -- (invB);
  \draw[arrow] (invB) -- (invC);
  \draw[arrow] (invC) -- (invD);
  \draw[arrow] (invD) -- (invE);
  \draw[arrow] (invAskC) -- (invF);
  \draw[arrow] (invF) -- (invG);
  \draw[arrow] (trendStart) -| (farAsk);
  \draw[arrow] (notifAsk) -- (notifA);
  \draw[arrow] (notifA) -- (notifAskB);
  \draw[arrow] (notifSpur) -- (notifAskB);
  \draw[arrow] (notifAskB) -- (notifB);
  \draw[arrow] (notifB) -- (notifC);
  \draw[arrow] (notifC) -- (notifD);
  \draw[arrow] (profAskTop) -- (profTopA);
  \draw[arrow] (setAskTop) -- (setTopA);
  \draw[wire] (profRail) -- (profRailFoot);
  \draw[arrow] (schedAsk) -- (schedA);
  \draw[arrow] (schedA) -- (schedAskB);
  \draw[arrow] (schedFork) -| (schedAskC);
  \draw[arrow] (schedAskB) -- (schedB1);
  \draw[arrow] (schedB1) -- (schedB2);
  \draw[arrow] (schedB2) -- (schedB3);
  \draw[arrow] (schedB3) -- (schedB4);
  \draw[arrow] (schedAskC) -- (schedC1);
  \draw[arrow] (schedC1) -- (schedC2);
  \draw[arrow] (schedC2) -- (schedC3);
  \draw[wire] (schedA) -- (schedFoot);
  \draw[arrow] (schedTap) -- (schedB4);
  \draw[arrow] (msgAsk) -- (msgA);
  \draw[arrow] (msgA) -- (msgB);
  \draw[arrow] (msgAskB) -- (msgC);
  \draw[wire] (msgRailTop) -- (msgRailFoot);
  \draw[arrow] (promTAsk) -- (promTA);
  \draw[arrow] (promTA) -- (promTAskB);
  \draw[arrow] (promTAskB) -- (promTB);
  \draw[arrow] (promTAskB) -- (promTC);
  \draw[wire] (promTC.east) -- ++(4.4,0) -- ++(0,-15.5);
  \draw[arrow] (premAsk) -- (premA);
  \draw[arrow] (premA) -- (premAskB);
  \draw[arrow] (premAskB) -- (premB);
  \draw[arrow] (premAskB) -- (premC);
  \draw[wire] (premC.east) -- ++(4.4,0) -- ++(0,-15.5);
  \draw[arrow] (addAsk) -- (addA);
  \draw[arrow] (addA) -- (addAskB);
  \draw[arrow] (addAskB) -- (addB);
  \draw[arrow] (addAskB) -- (addC);
  \draw[wire] (addC.east) -- ++(4.4,0);
  \draw[arrow] (picAsk) -- (picA);
  \draw[arrow] (picA) -- (picB);
  \draw[arrow] (noteAsk) -- (noteA);
  \draw[arrow] (farAsk) -- (farA);

  \draw[arrow] (hosA) -- (hosB);
  \draw[arrow] (hosB) -- (hosC);
  \draw[arrow] (hosC) -- (hosD);
  \draw[arrow] (hosD) -- (hosE);
  \draw[arrow] (hosE) -- (hosF);
  \draw[arrow] (hosF) -- (teamAsk);
  \draw[arrow] (teamAsk) -- (memberAsk);
  \draw[arrow] (memberAsk) -- (patAsk);
  \draw[arrow] (patAsk) -- (hprofAsk);
  \draw[arrow] (hprofAsk) -- (hsetAsk);
  \draw[arrow] (hosA) |- (hosRailTop) -- (hosRailLow) -- (admB3);
  \draw[arrow] (teamAsk) -- (teamsA);
  \draw[arrow] (teamAskB) -- (teamB);
  \draw[arrow] (teamB) -- (teamC);
  \draw[arrow] (teamC) -- (teamD);
  \draw[arrow] (teamD) -- (teamAskC);
  \draw[arrow] (teamAskC) -- (teamE);
  \draw[arrow] (teamE) -- (teamF);
  \draw[arrow] (teamF) -- (teamJ);
  \draw[arrow] (teamJ) -- (teamK);
  \draw[arrow] (teamAskC) -- (teamG);
  \draw[arrow] (teamG) -- (teamH);
  \draw[arrow] (teamH) -- (teamI);
  \draw[arrow] (teamD) -- (teamBend) |- (teamK);
  \draw[wire] (teamJ) -- (teamTapJ);
  \draw[arrow] (teamsA) -- (teamLoop) -| (clinB);
  \draw[arrow] (teamTapI) -- (teamI);
  \draw[arrow] (clinAsk) -- (clinA);
  \draw[arrow] (clinA) -- (clinB);
  \draw[arrow] (clinFork) -| (subAskC);
  \draw[wire] (subRailTop) -- (subRailFoot);
  \draw[arrow] (clinB) -- (subAskA);
  \draw[arrow] (subAskA) -- (subAskB);
  \draw[arrow] (subAskA) -- (subA);
  \draw[arrow] (subAskB) -- (subB);
  \draw[arrow] (subAskC) -- (subC);
  \draw[arrow] (subC) -- (subL);
  \draw[arrow] (subA) -- (subD);
  \draw[arrow] (subB) -- (subAskD);
  \draw[arrow] (subAskD) -- (subE);
  \draw[arrow] (subAskD) -- (subF);
  \draw[arrow] (subF) -- (subH);
  \draw[arrow] (subH) -- (subJ);
  \draw[arrow] (subE) -- (subG);
  \draw[arrow] (subG) -- (subI);
  \draw[arrow] (subI) -- (subK);
  \draw[arrow] (subTapD) -- (subD);
  \draw[arrow] (subTapJ) -- (subJ);
  \draw[arrow] (subTapK) -- (subK);
  \draw[wire] (subI) -- (subSpur);
  \draw[wire] (midRailTop) -- (midRailFoot);
  \draw[arrow] (memberAsk) -- (memberA);
  \draw[arrow] (memberA) |- (memberG);
  \draw[arrow] (memberAskB) -- (memberB);
  \draw[arrow] (memberB) -- (memberD);
  \draw[arrow] (memberD) -- (memberE);
  \draw[arrow] (memberE) -- (memberF);
  \draw[arrow] (memberAskC) -- (memberC);
  \draw[arrow] (memberC) -- (memberG);
  \draw[arrow] (patAsk) -- (patA);
  \draw[arrow] (patFork) -| (patAskB);
  \draw[arrow] (patAskB) -- (patB);
  \draw[arrow] (patB) -- (patC);
  \draw[arrow] (hprofAsk) -- (hprofA);
  \draw[arrow] (hsetAsk) -- (hsetA);
  \draw[wire] (hprofRail) -- (hprofRailFoot);

  \draw[arrow] (adA) -- (adB);
  \draw[arrow] (orgAsk) -- (orgA);
  \draw[arrow] (orgA) -- (orgAskB);
  \draw[arrow] (orgAskB) -- (orgAskC);
  \draw[arrow] (orgAskB) -- (orgB1);
  \draw[arrow] (orgB1) -- (orgB2);
  \draw[arrow] (orgB2) -- (orgB3);
  \draw[arrow] (orgB3) -- (orgB4);
  \draw[arrow] (orgAskC) -- (orgC1);
  \draw[arrow] (orgC1) -- (orgC2);
  \draw[arrow] (invAdAsk) -- (admA);
  \draw[wire] (admA) -- (admFoot);
  \draw[arrow] (admAskB) -- (admB1);
  \draw[arrow] (admB1) -- (admB2);
  \draw[arrow] (admB2) -- (admB3);
  \draw[arrow] (admB3) -- (admB4);
  \draw[arrow] (admB4) -- (admB5);
  \draw[arrow] (admAskC) -- (admC);
  \draw[arrow] (admC) -- (admD);
  \draw[wire] (admD) -- (admCFoot);
  \draw[arrow] (aprofAsk) -- (aprofA);
  \draw[wire] (aprofA) -| (aprofRail);
  \draw[arrow] (asetAsk) -- (asetA);
\end{tikzpicture}
\end{document}
